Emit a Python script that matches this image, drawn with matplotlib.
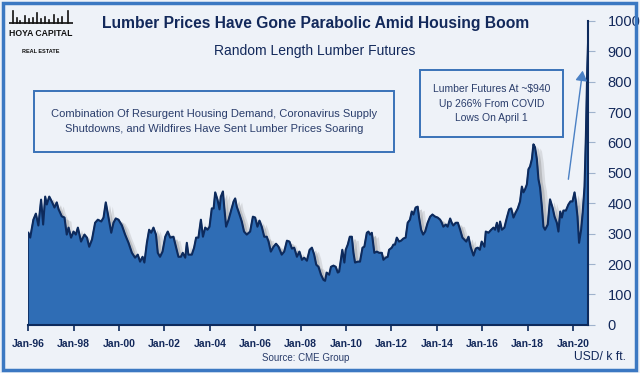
import matplotlib
matplotlib.use("Agg")
import matplotlib.pyplot as plt
import matplotlib.patheffects as pe
from matplotlib.patches import Rectangle, FancyArrowPatch
import numpy as np

# 木材期货价格 (美元/千板英尺)
dates = [
    1996.01, 1996.09, 1996.23, 1996.34, 1996.45, 1996.57, 1996.66, 1996.75, 1996.82, 1996.93,
    1997.04, 1997.16, 1997.26, 1997.34, 1997.48, 1997.60, 1997.70, 1997.78, 1997.89, 1998.00,
    1998.10, 1998.19, 1998.33, 1998.48, 1998.59, 1998.69, 1998.81, 1998.95, 1999.07, 1999.22,
    1999.32, 1999.42, 1999.54, 1999.66, 1999.76, 1999.86, 1999.98, 2000.13, 2000.27, 2000.42,
    2000.57, 2000.71, 2000.83, 2000.93, 2001.04, 2001.12, 2001.23, 2001.33, 2001.42, 2001.52,
    2001.63, 2001.71, 2001.81, 2001.92, 2002.04, 2002.15, 2002.26, 2002.40, 2002.52, 2002.62,
    2002.73, 2002.81, 2002.92, 2002.99, 2003.06, 2003.21, 2003.31, 2003.40, 2003.50, 2003.61,
    2003.70, 2003.80, 2003.90, 2003.99, 2004.09, 2004.17, 2004.24, 2004.34, 2004.43, 2004.49,
    2004.58, 2004.64, 2004.72, 2004.83, 2004.93, 2005.05, 2005.12, 2005.19, 2005.31, 2005.41,
    2005.51, 2005.63, 2005.78, 2005.90, 2006.00, 2006.10, 2006.19, 2006.29, 2006.40, 2006.51,
    2006.59, 2006.69, 2006.81, 2006.92, 2007.03, 2007.17, 2007.28, 2007.40, 2007.51, 2007.62,
    2007.72, 2007.84, 2007.95, 2008.06, 2008.16, 2008.28, 2008.40, 2008.50, 2008.60, 2008.69,
    2008.79, 2008.90, 2009.01, 2009.08, 2009.15, 2009.26, 2009.34, 2009.45, 2009.55, 2009.64,
    2009.70, 2009.79, 2009.84, 2009.93, 2009.99, 2010.08, 2010.17, 2010.26, 2010.33, 2010.40,
    2010.52, 2010.62, 2010.73, 2010.81, 2010.92, 2010.99, 2011.06, 2011.14, 2011.25, 2011.36,
    2011.46, 2011.58, 2011.65, 2011.75, 2011.84, 2011.90, 2012.02, 2012.09, 2012.16, 2012.24,
    2012.34, 2012.43, 2012.53, 2012.63, 2012.72, 2012.82, 2012.90, 2012.97, 2013.07, 2013.16,
    2013.22, 2013.31, 2013.40, 2013.49, 2013.60, 2013.71, 2013.81, 2013.93, 2014.04, 2014.15,
    2014.22, 2014.29, 2014.40, 2014.48, 2014.59, 2014.66, 2014.73, 2014.84, 2014.93, 2015.03,
    2015.13, 2015.22, 2015.30, 2015.40, 2015.49, 2015.62, 2015.72, 2015.81, 2015.90, 2015.98,
    2016.10, 2016.16, 2016.28, 2016.40, 2016.50, 2016.57, 2016.65, 2016.72, 2016.79, 2016.87,
    2016.98, 2017.09, 2017.19, 2017.28, 2017.38, 2017.48, 2017.57, 2017.67, 2017.75, 2017.82,
    2017.89, 2017.97, 2018.04, 2018.11, 2018.19, 2018.26, 2018.33, 2018.41, 2018.48, 2018.55,
    2018.63, 2018.70, 2018.77, 2018.89, 2018.99, 2019.10, 2019.19, 2019.29, 2019.36, 2019.44,
    2019.51, 2019.58, 2019.69, 2019.80, 2019.89, 2019.98, 2020.07, 2020.13, 2020.20, 2020.27,
    2020.36, 2020.43, 2020.51, 2020.57, 2020.63, 2020.67,
]
prices = [
    303, 287, 346, 366, 327, 412, 330, 422, 396, 422,
    406, 386, 403, 380, 357, 353, 297, 320, 287, 307,
    297, 320, 274, 297, 287, 257, 280, 336, 346, 340,
    353, 403, 353, 303, 336, 350, 346, 327, 297, 270,
    237, 221, 231, 208, 224, 205, 270, 313, 303, 320,
    297, 237, 224, 241, 290, 307, 287, 290, 254, 224,
    224, 237, 221, 270, 231, 231, 254, 287, 287, 346,
    290, 320, 313, 323, 383, 383, 436, 412, 380, 422,
    439, 386, 323, 346, 373, 406, 416, 389, 363, 340,
    307, 297, 307, 356, 353, 323, 343, 323, 290, 290,
    274, 241, 257, 267, 257, 231, 241, 277, 274, 251,
    254, 224, 241, 214, 221, 211, 247, 254, 231, 198,
    191, 165, 148, 145, 172, 165, 191, 195, 191, 172,
    175, 221, 247, 205, 247, 264, 290, 290, 237, 205,
    208, 208, 254, 257, 303, 307, 297, 303, 237, 241,
    237, 237, 214, 221, 224, 247, 254, 264, 264, 287,
    274, 277, 284, 287, 336, 346, 373, 363, 386, 389,
    353, 313, 297, 307, 336, 356, 363, 356, 353, 346,
    336, 323, 330, 323, 350, 336, 327, 336, 336, 313,
    287, 280, 274, 290, 257, 228, 251, 254, 247, 274,
    257, 307, 303, 313, 320, 313, 336, 307, 340, 313,
    320, 353, 380, 383, 353, 370, 383, 406, 455, 436,
    446, 462, 512, 521, 545, 594, 584, 545, 479, 452,
    389, 323, 313, 330, 413, 386, 356, 336, 307, 373,
    353, 376, 376, 396, 406, 406, 436, 406, 356, 270,
    313, 370, 455, 620, 842, 940,
]

tick_years = list(range(1996, 2021, 2))
tick_labels = [f"Jan-{y % 100:02d}" for y in tick_years]
y_ticks = list(range(0, 1001, 100))

BG = "#eef2f8"
NAVY = "#13295b"
TXT = "#2a3d6b"
FILL = "#2f6db5"
EDGE = "#0d2a5c"
BOX = "#3a72b8"

plt.rcParams["font.family"] = ["Liberation Sans", "DejaVu Sans"]

fig = plt.figure(figsize=(6.4, 3.73), dpi=100, facecolor=BG)
renderer = fig.canvas.get_renderer()


def fit_text(x, y, s, width_px, size, **kw):
    """按目标宽度缩小字号"""
    t = fig.text(x, y, s, fontsize=size, **kw)
    while t.get_window_extent(renderer).width > width_px and size > 4:
        size -= 0.25
        t.set_fontsize(size)
    return t


ax = fig.add_axes([0.044, 0.129, 0.875, 0.815])
ax.set_facecolor(BG)

# 面积 + 阴影
xs = np.array(dates)
ys = np.array(prices)
poly_x = np.concatenate([xs, [xs[-1], xs[0]]])
poly_y = np.concatenate([ys, [0, 0]])
patches = ax.fill(poly_x, poly_y, color=FILL, zorder=2)
for p in patches:
    p.set_path_effects([
        pe.SimplePatchShadow(offset=(5, -3), shadow_rgbFace="#9a9a9a", alpha=0.25),
        pe.SimplePatchShadow(offset=(3, -2), shadow_rgbFace="#777777", alpha=0.3),
        pe.Normal(),
    ])
ax.plot(xs, ys, color=EDGE, lw=1.5, zorder=3)
ax.plot([xs[0], xs[0]], [0, ys[0]], color=EDGE, lw=1.2, zorder=3)

ax.set_xlim(xs[0], xs[-1])
ax.set_ylim(0, 1000)

for s in ["top", "left"]:
    ax.spines[s].set_visible(False)
ax.spines["bottom"].set_color(EDGE)
ax.spines["bottom"].set_linewidth(1.5)
ax.spines["right"].set_color(EDGE)
ax.spines["right"].set_linewidth(1.5)

ax.yaxis.tick_right()
ax.set_yticks(y_ticks)
ax.set_yticklabels([str(v) for v in y_ticks], fontsize=10.5, color=NAVY)
ax.tick_params(axis="y", direction="out", length=5, color="#9fb2cc", pad=9)

ax.set_xticks(tick_years)
ax.set_xticklabels(tick_labels, fontsize=7.5, color=NAVY, fontweight="bold")
ax.tick_params(axis="x", direction="out", length=4, color=EDGE, width=1.2, pad=6)

# 标题
fit_text(0.493, 0.938, "Lumber Prices Have Gone Parabolic Amid Housing Boom", 432, 14,
         ha="center", va="center", fontweight="bold", color=NAVY)
fit_text(0.492, 0.862, "Random Length Lumber Futures", 205, 12,
         ha="center", va="center", color=NAVY)

# 注释框
fig.patches.append(Rectangle((0.053, 0.593), 0.563, 0.163, transform=fig.transFigure,
                             fill=False, edgecolor=BOX, lw=1.4))
fit_text(0.334, 0.675,
         "Combination Of Resurgent Housing Demand, Coronavirus Supply\n"
         "Shutdowns, and Wildfires Have Sent Lumber Prices Soaring", 335, 10,
         ha="center", va="center", color=TXT, linespacing=1.6)

fig.patches.append(Rectangle((0.656, 0.633), 0.224, 0.18, transform=fig.transFigure,
                             fill=False, edgecolor=BOX, lw=1.4))
fit_text(0.768, 0.722, "Lumber Futures At ~$940\nUp 266% From COVID\nLows On April 1", 120, 10,
         ha="center", va="center", color=TXT, linespacing=1.6)

fig.patches.append(FancyArrowPatch(
    (0.8875, 0.512), (0.911, 0.818), transform=fig.transFigure,
    arrowstyle="-|>,head_length=6,head_width=3.5", color="#4a80c4", lw=1.0))

# 来源
fit_text(0.477, 0.04, "Source: CME Group", 90, 10, ha="center", va="center", color=TXT)
fit_text(0.978, 0.043, "USD/ k ft.", 52, 11, ha="right", va="center", color=NAVY)

# 标志
fit_text(0.063, 0.911, "HOYA CAPITAL", 64, 11, ha="center", va="center",
         color="#111111", fontweight="bold")
fit_text(0.063, 0.861, "REAL ESTATE", 28, 6, ha="center", va="center",
         color="#111111", fontweight="bold")
ax_logo = fig.add_axes([0.014, 0.935, 0.1, 0.04])
ax_logo.axis("off")
ax_logo.set_xlim(0, 10)
ax_logo.set_ylim(0, 4)
ax_logo.plot([0, 10], [0.4, 0.4], color="#111111", lw=1.2)
for bx, bh in [(0.6, 3.5), (1.2, 1.6), (1.8, 1.0), (2.5, 2.2), (3.1, 1.3), (3.7, 1.8),
               (4.4, 2.9), (5.0, 1.5), (5.7, 2.0), (6.3, 1.2), (7.0, 2.5), (7.6, 1.4),
               (8.3, 1.9), (9.2, 3.6)]:
    ax_logo.plot([bx, bx], [0.4, bh], color="#111111", lw=1.2)

# 外框
fig.patches.append(Rectangle((0.004, 0.007), 0.99, 0.985, transform=fig.transFigure,
                             fill=False, edgecolor="#3b78c2", lw=2.5))

fig.savefig("out.png", dpi=100, facecolor=BG)
